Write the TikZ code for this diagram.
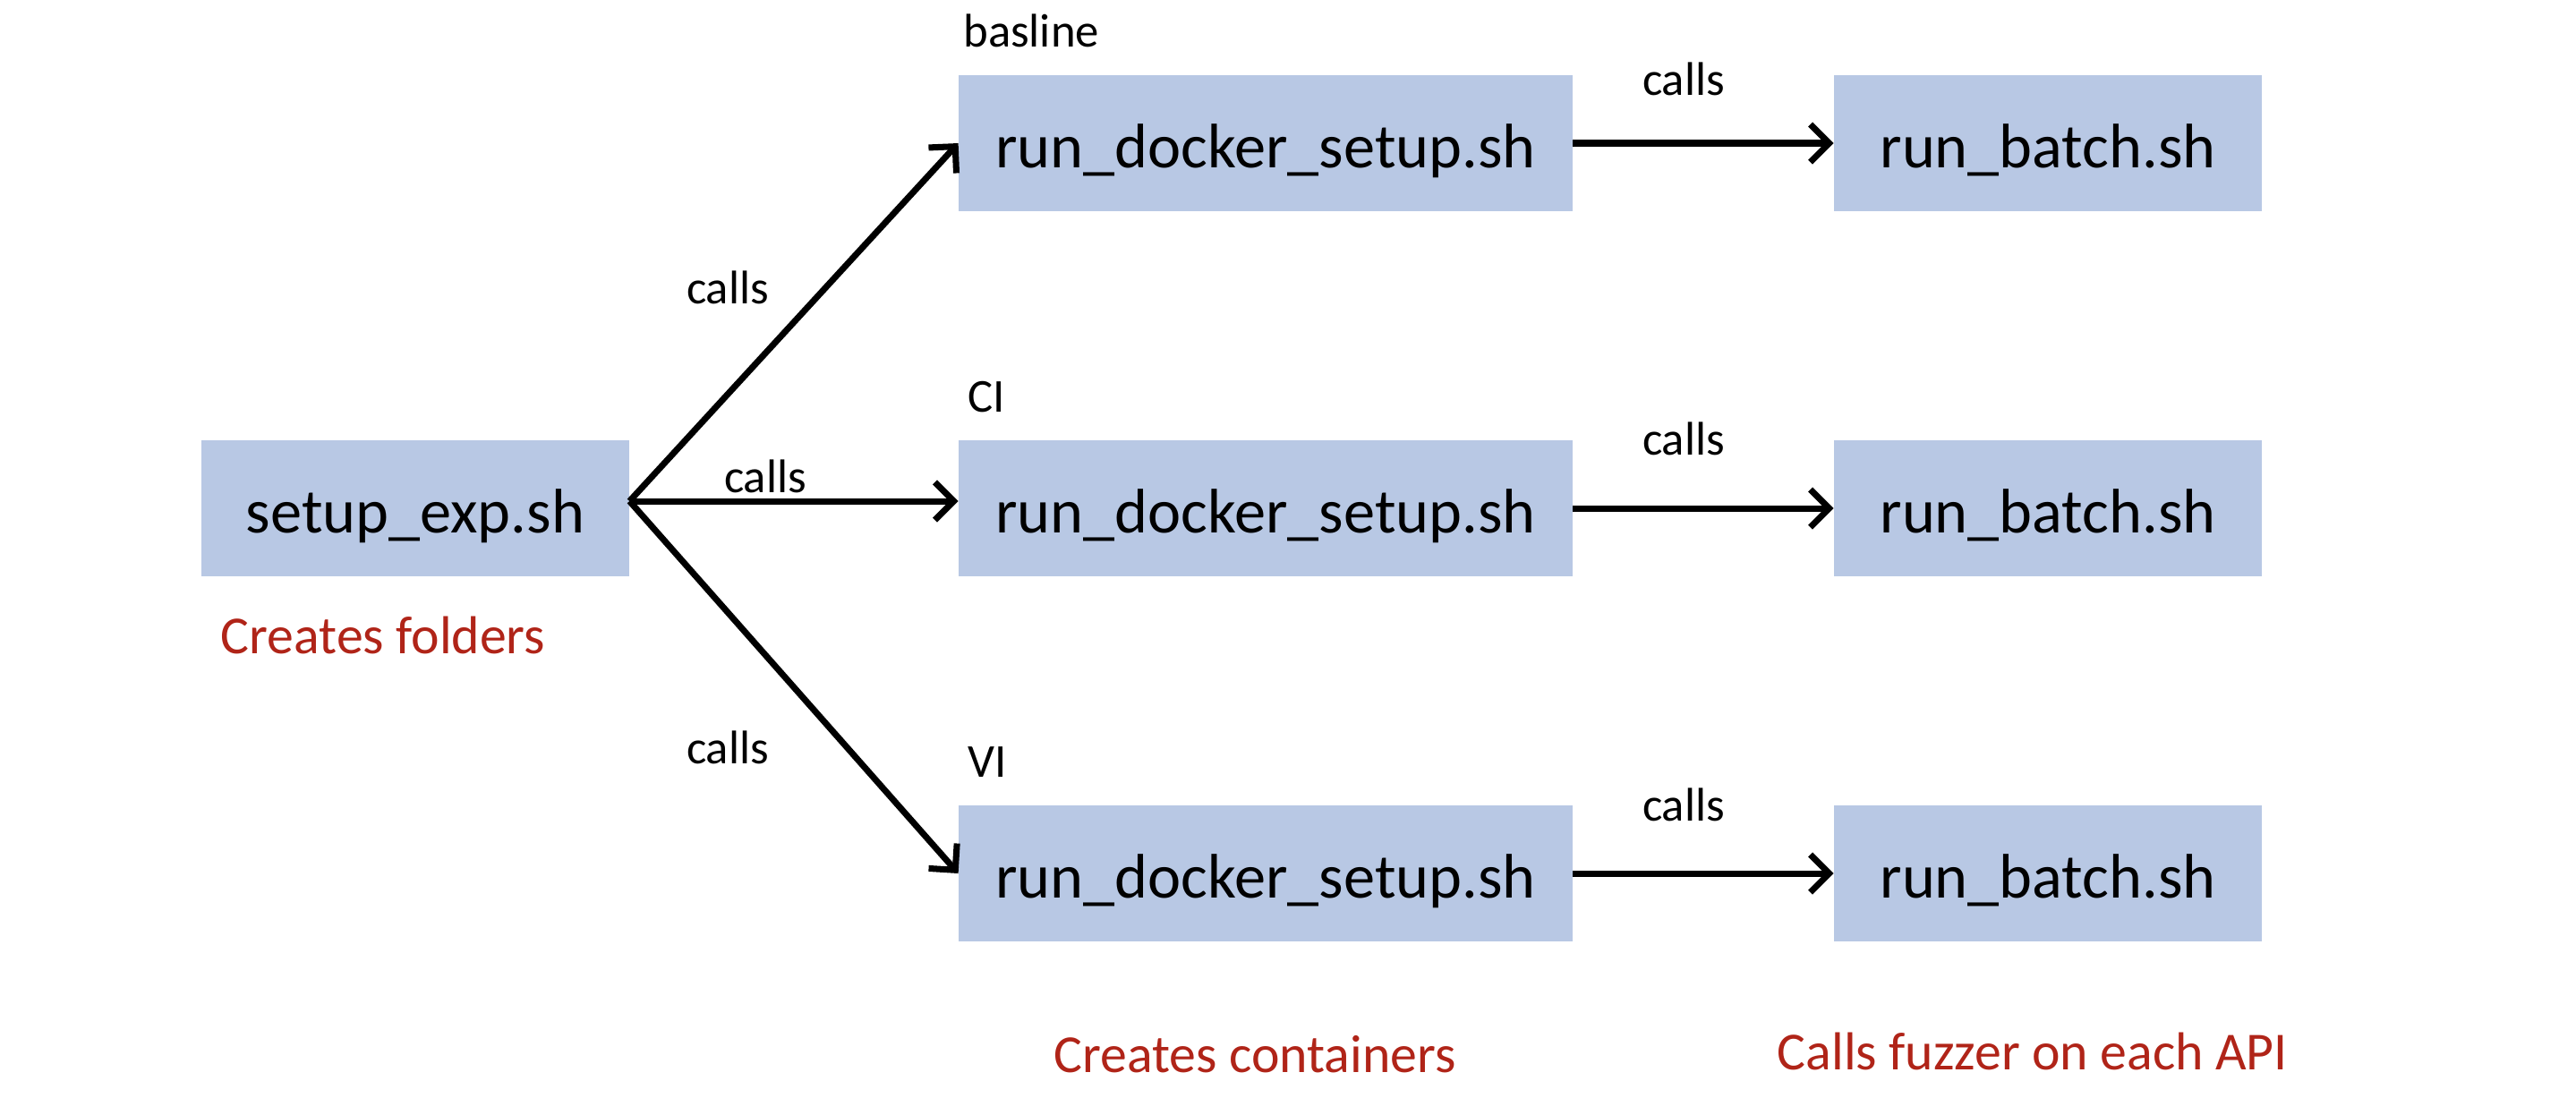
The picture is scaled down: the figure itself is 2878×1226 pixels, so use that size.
\documentclass[tikz,border=0pt]{standalone}
\usepackage{fontspec}
\setmainfont{Carlito}
\usetikzlibrary{arrows.meta,positioning,calc}
\definecolor{boxblue}{HTML}{B8C8E4}
\definecolor{notered}{HTML}{B02418}
\tikzset{
  scriptbox/.style={fill=boxblue, minimum height=1.52cm, inner sep=0pt, text height=0.68cm, text depth=0.14cm, font=\fontsize{20}{24}\selectfont},
  callarrow/.style={-{Straight Barb[length=6pt,width=12pt]}, line width=2pt},
  callnote/.style={font=\fontsize{15}{18}\selectfont, inner sep=0pt},
  rednote/.style={text=notered, font=\fontsize{17}{20}\selectfont, inner sep=0pt},
}
\begin{document}
\begin{tikzpicture}[x=0.01cm, y=-0.01cm]
\useasboundingbox (0,0) rectangle (2878,1226);
% scripts
\node[scriptbox, minimum width=4.77cm] (setup) at (464,568) {setup\_exp.sh};
\node[scriptbox, minimum width=6.85cm] (dockA) at (1414,160) {run\_docker\_setup.sh};
\node[scriptbox, minimum width=6.85cm] (dockB) at (1414,568) {run\_docker\_setup.sh};
\node[scriptbox, minimum width=6.85cm] (dockC) at (1414,976) {run\_docker\_setup.sh};
\node[scriptbox, minimum width=4.77cm] (batchA) at (2288,160) {run\_batch.sh};
\node[scriptbox, minimum width=4.77cm] (batchB) at (2288,568) {run\_batch.sh};
\node[scriptbox, minimum width=4.77cm] (batchC) at (2288,976) {run\_batch.sh};
% variant tags
\node[callnote, above right=0.3cm and 0.05cm of dockA.north west] (tagA) {basline};
\node[callnote, above right=0.3cm and 0.1cm of dockB.north west] (tagB) {CI};
\node[callnote, above right=0.3cm and 0.1cm of dockC.north west] (tagC) {VI};
% calls
\coordinate (fork) at ($(setup.east)+(0,-8)$);
\draw[callarrow] (fork) -- (dockA.west);
\draw[callarrow] (fork) -- ($(dockB.west)+(0,-8)$);
\draw[callarrow] (fork) -- (dockC.west);
\draw[callarrow] (dockA.east) -- (batchA.west);
\draw[callarrow] (dockB.east) -- (batchB.west);
\draw[callarrow] (dockC.east) -- (batchC.west);
\node[callnote] (callA) at (813,321) {calls};
\node[callnote] (callB) at (855,532) {calls};
\node[callnote] (callC) at (813,835) {calls};
\node[callnote] (callD) at (1881,88) {calls};
\node[callnote] (callE) at (1881,490) {calls};
\node[callnote] (callF) at (1881,899) {calls};
% descriptions
\node[rednote] (noteA) at (428,710) {Creates folders};
\node[rednote] (noteB) at (1402,1178) {Creates containers};
\node[rednote] (noteC) at (2271,1175) {Calls fuzzer on each API};
\end{tikzpicture}
\end{document}
